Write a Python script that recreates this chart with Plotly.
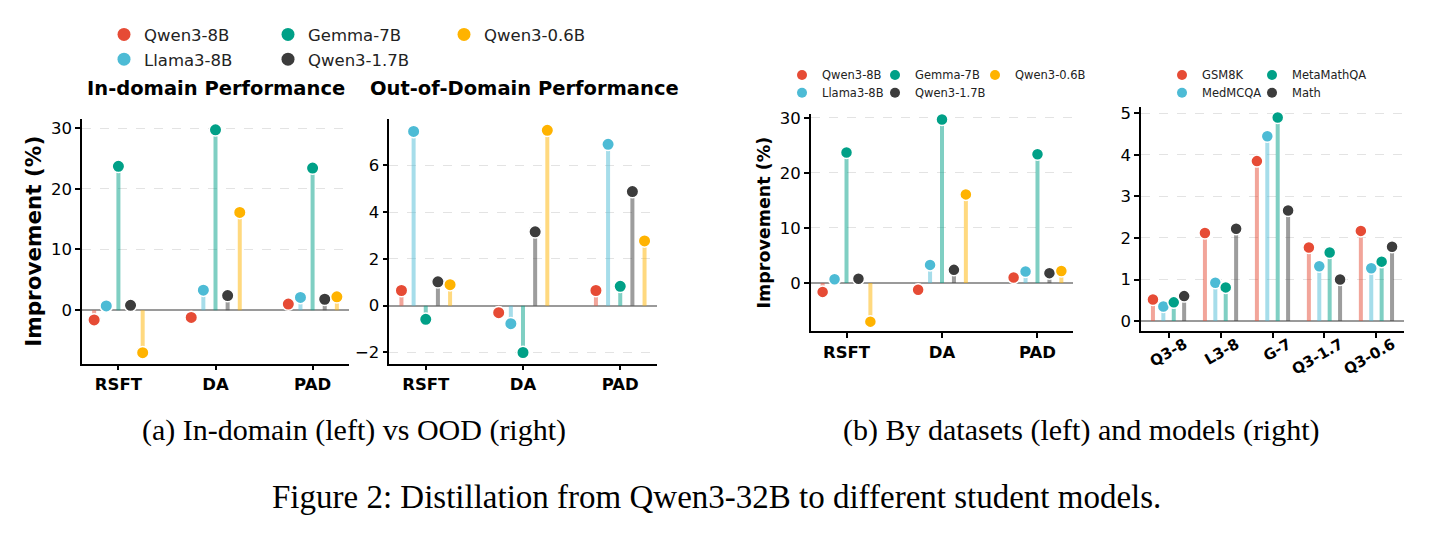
import plotly.graph_objects as go

# ---------------- data ----------------
methods = ["RSFT", "DA", "PAD"]
models = ["Qwen3-8B", "Llama3-8B", "Gemma-7B", "Qwen3-1.7B", "Qwen3-0.6B"]

# In-domain improvement (%) per method (RSFT, DA, PAD)
id_qwen3_8b = [-1.6, -1.2, 1.0]
id_llama3_8b = [0.7, 3.3, 2.1]
id_gemma_7b = [23.7, 29.7, 23.4]
id_qwen3_1_7b = [0.8, 2.4, 1.8]
id_qwen3_0_6b = [-7.0, 16.1, 2.2]

# Out-of-domain improvement (%)
ood_qwen3_8b = [0.65, -0.3, 0.65]
ood_llama3_8b = [7.45, -0.77, 6.9]
ood_gemma_7b = [-0.58, -2.0, 0.83]
ood_qwen3_1_7b = [1.02, 3.16, 4.88]
ood_qwen3_0_6b = [0.9, 7.5, 2.77]

# By models (right of b)
model_short = ["Q3-8", "L3-8", "G-7", "Q3-1.7", "Q3-0.6"]
datasets = ["GSM8K", "MedMCQA", "MetaMathQA", "Math"]
gsm8k = [0.52, 2.12, 3.85, 1.77, 2.17]
medmcqa = [0.35, 0.92, 4.45, 1.32, 1.27]
metamathqa = [0.45, 0.81, 4.90, 1.65, 1.43]
math_ds = [0.60, 2.22, 2.66, 1.00, 1.79]

# ---------------- style ----------------
colors = ["#E64B35", "#4DBBD5", "#00A087", "#3C3C3C", "#FFB300"]
stem_colors = ["rgba(230,75,53,0.5)", "rgba(77,187,213,0.5)", "rgba(0,160,135,0.5)",
               "rgba(60,60,60,0.5)", "rgba(255,179,0,0.5)"]
FONT = "DejaVu Sans"
W, H = 1430, 534


def fx(px):
    return px / W


def fy(py):
    return 1 - py / H


fig = go.Figure()


def add_lollipop(vals_list, offsets, xa, ya, msize=12.5):
    for i, vals in enumerate(vals_list):
        xs, ys = [], []
        for j, v in enumerate(vals):
            xs += [j + offsets[i], j + offsets[i], None]
            ys += [0, v, None]
        fig.add_trace(go.Scatter(x=xs, y=ys, mode="lines", xaxis=xa, yaxis=ya,
                                 line=dict(color=stem_colors[i], width=4),
                                 showlegend=False, hoverinfo="skip"))
        fig.add_trace(go.Scatter(x=[j + offsets[i] for j in range(len(vals))], y=vals,
                                 mode="markers", xaxis=xa, yaxis=ya,
                                 marker=dict(color=colors[i], size=msize,
                                             line=dict(color="white", width=1.5)),
                                 showlegend=False))


off5 = [-0.25, -0.125, 0.0, 0.125, 0.25]
off4 = [-0.3, -0.1, 0.1, 0.3]

in_domain = [id_qwen3_8b, id_llama3_8b, id_gemma_7b, id_qwen3_1_7b, id_qwen3_0_6b]
ood = [ood_qwen3_8b, ood_llama3_8b, ood_gemma_7b, ood_qwen3_1_7b, ood_qwen3_0_6b]
by_model = [gsm8k, medmcqa, metamathqa, math_ds]

add_lollipop(in_domain, off5, "x", "y")
add_lollipop(ood, off5, "x2", "y2")
add_lollipop(in_domain, off5, "x3", "y3", msize=12)
add_lollipop(by_model, off4, "x4", "y4", msize=12)

# ---------------- legends (one legend box per entry, matplotlib-like columns) ----------------
LEG_TEXT_OFFSET = 40  # px from legend box left edge to start of the entry text
legend_specs = []  # (name, color, text_x_px, y_px, font_size, marker_size)
a_pos = {0: (144, 30), 2: (308, 30), 4: (484, 30), 1: (144, 55), 3: (308, 55)}
b_pos = {0: (822, 70.6), 2: (915, 70.6), 4: (1015, 70.6), 1: (822, 88.6), 3: (915, 88.6)}
c_pos = {0: (1202, 70.6), 2: (1292, 70.6), 1: (1202, 88.6), 3: (1292, 88.6)}
for i, (tx, ty) in a_pos.items():
    legend_specs.append((models[i], colors[i], tx, ty, 16.5, 13))
for i, (tx, ty) in b_pos.items():
    legend_specs.append((models[i], colors[i], tx, ty, 11.5, 10))
for i, (tx, ty) in c_pos.items():
    legend_specs.append((datasets[i], colors[i], tx, ty, 11.5, 10))

legend_layout = {}
for k, (name, col, tx, ty, fs, ms) in enumerate(legend_specs):
    key = "legend" if k == 0 else f"legend{k + 1}"
    fig.add_trace(go.Scatter(x=[None], y=[None], mode="markers", name=name,
                             marker=dict(color=col, size=ms),
                             legend=key, showlegend=True, xaxis="x", yaxis="y"))
    legend_layout[key] = dict(orientation="h", x=fx(tx - LEG_TEXT_OFFSET), xanchor="left",
                              y=fy(ty), yanchor="middle",
                              font=dict(family=FONT, size=fs, color="#222"),
                              bgcolor="rgba(0,0,0,0)", borderwidth=0, itemclick=False,
                              itemdoubleclick=False)


def xax(domain, rng, tickvals, ticktext, size=16.5, angle=None, shift=None, standoff=None):
    d = dict(domain=domain, range=rng, tickvals=tickvals, ticktext=ticktext,
             showline=True, linecolor="black", linewidth=1.5, ticks="outside",
             ticklen=5, tickwidth=1.5, tickcolor="black", showgrid=False, zeroline=False,
             tickfont=dict(family=FONT, size=size, color="black", weight="bold"))
    if angle is not None:
        d["tickangle"] = angle
    if shift is not None:
        d["ticklabelshift"] = shift
    if standoff is not None:
        d["ticklabelstandoff"] = standoff
    return d


def yax(domain, rng, dtick, anchor, title=None, tsize=21.5, standoff=6):
    d = dict(domain=domain, range=rng, dtick=dtick, anchor=anchor,
             showline=True, linecolor="black", linewidth=1.5, ticks="outside",
             ticklen=5, tickwidth=1.5, tickcolor="black",
             showgrid=True, gridcolor="#e3e3e3", griddash="dash", gridwidth=1,
             zeroline=True, zerolinecolor="#9a9a9a", zerolinewidth=1.5,
             tickfont=dict(family=FONT, size=16.5, color="black"))
    if title:
        d["title"] = dict(text=title, standoff=standoff,
                          font=dict(family=FONT, size=tsize, color="black", weight="bold"))
    return d


fig.update_layout(
    width=W, height=H, margin=dict(l=0, r=0, t=0, b=0),
    paper_bgcolor="white", plot_bgcolor="white",
    xaxis=xax([fx(82), fx(349)], [-0.375, 2.375], [0, 1, 2], methods),
    yaxis=yax([fy(362), fy(115)], [-8.8, 31.5], 10, "x", "Improvement (%)", standoff=3),
    xaxis2=xax([fx(389.3), fx(656.7)], [-0.375, 2.375], [0, 1, 2], methods),
    yaxis2=yax([fy(362), fy(115)], [-2.4755, 7.9855], 2, "x2"),
    xaxis3=xax([fx(810.7), fx(1073.3)], [-0.375, 2.375], [0, 1, 2], methods),
    yaxis3=yax([fy(329.3), fy(110)], [-8.74, 30.7], 10, "x3", "Improvement (%)", 17.5,
               standoff=5),
    xaxis4=xax([fx(1141), fx(1404)], [-0.53, 4.53], [0, 1, 2, 3, 4], model_short,
               size=15, angle=-30, shift=16, standoff=-8),
    yaxis4=yax([fy(329.3), fy(103.3)], [-0.245, 5.145], 1, "x4"),
    showlegend=True,
    **legend_layout,
)
fig.update_layout(xaxis2_anchor="y2", xaxis3_anchor="y3", xaxis4_anchor="y4",
                  xaxis_anchor="y")

annos = [
    dict(text="<b>In-domain Performance</b>", x=fx(216), y=fy(84), size=19.5, fam=FONT),
    dict(text="<b>Out-of-Domain Performance</b>", x=fx(524), y=fy(84), size=19.5, fam=FONT),
    dict(text="(a) In-domain (left) vs OOD (right)", x=fx(354), y=fy(429), size=30,
         fam="Liberation Serif"),
    dict(text="(b) By datasets (left) and models (right)", x=fx(1081), y=fy(429), size=30,
         fam="Liberation Serif"),
    dict(text="Figure 2: Distillation from Qwen3-32B to different student models.",
         x=fx(716), y=fy(497), size=33, fam="Liberation Serif"),
]
for a in annos:
    fig.add_annotation(text=a["text"], x=a["x"], y=a["y"], xref="paper", yref="paper",
                       xanchor="center", yanchor="middle", showarrow=False,
                       font=dict(family=a["fam"], size=a["size"], color="black"))

fig.write_html("out.html")
